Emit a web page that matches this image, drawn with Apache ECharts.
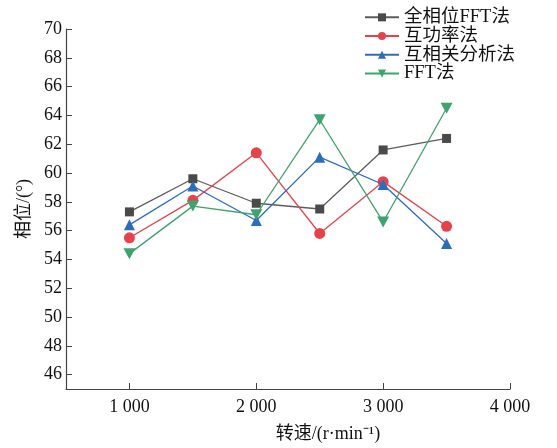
<!DOCTYPE html>
<html><head><meta charset="utf-8">
<script src="https://cdn.jsdelivr.net/npm/echarts@6/dist/echarts.min.js"></script>
<style>html,body{margin:0;padding:0;background:#fff}#c{width:557px;height:448px}</style>
</head><body><div id="c"></div>
<script>
var speeds = [1000, 1500, 2000, 2500, 3000, 3500];
var seriesNames = ['全相位FFT法', '互功率法', '互相关分析法', 'FFT法'];
var allPhaseFFT = [57.3, 59.6, 57.9, 57.5, 61.6, 62.4];
var crossPower = [55.5, 58.1, 61.4, 55.8, 59.4, 56.3];
var crossCorr = [56.4, 59.1, 56.7, 61.1, 59.2, 55.1];
var fft = [54.4, 57.7, 57.1, 63.7, 56.6, 64.5];
var xTicks = [1000, 2000, 3000, 4000];
var yTicks = [46, 48, 50, 52, 54, 56, 58, 60, 62, 64, 66, 68, 70];

var font = '"Liberation Serif", "Noto Sans CJK SC", serif';
function pairs(v){ return speeds.map(function(s,i){ return [s, v[i]]; }); }
function fmtX(v){ var s = String(v); return s.length > 3 ? s.slice(0, s.length-3) + ' ' + s.slice(-3) : s; }

var styles = [
  {color:'#4a4a4a', line:'#5c5c5c', symbol:'rect', size:9},
  {color:'#e5434b', line:'#e5434b', symbol:'circle', size:11},
  {color:'#2c6cbf', line:'#2c6cbf', symbol:'triangle', size:11},
  {color:'#3ea36c', line:'#3ea36c', symbol:'path://M0,0 L10,0 L5,9 Z', size:[12,11]}
];
var datas = [allPhaseFFT, crossPower, crossCorr, fft];

var chart = echarts.init(document.getElementById('c'));
chart.setOption({
  animation: false,
  backgroundColor: '#fff',
  grid: {left: 66, right: 47, top: 29, bottom: 58},
  legend: {
    orient: 'vertical', left: 359, top: 3, itemGap: 0,
    itemWidth: 34, itemHeight: 10,
    textStyle: {fontFamily: font, fontSize: 18.5, lineHeight: 18.7, color: '#111'},
    data: seriesNames
  },
  xAxis: {
    type: 'value', min: 500, max: 4000,
    name: '转速/(r·min⁻¹)', nameLocation: 'middle', nameGap: 36,
    nameTextStyle: {fontFamily: font, fontSize: 18, color: '#111', padding: [0,0,0,80]},
    axisLine: {show: true, lineStyle: {color: '#444', width: 1.2}},
    axisTick: {show: true, inside: true, length: 6, lineStyle: {color: '#444'}, customValues: xTicks},
    axisLabel: {fontFamily: font, fontSize: 18, color: '#111', margin: 9, customValues: xTicks, formatter: fmtX},
    splitLine: {show: false}
  },
  yAxis: {
    type: 'value', min: 45, max: 70,
    name: '相位/(°)', nameLocation: 'middle', nameGap: 33, nameRotate: 90,
    nameTextStyle: {fontFamily: font, fontSize: 18, color: '#111'},
    axisLine: {show: true, lineStyle: {color: '#444', width: 1.2}},
    axisTick: {show: true, inside: true, length: 6, lineStyle: {color: '#444'}, customValues: yTicks},
    axisLabel: {fontFamily: font, fontSize: 18, color: '#111', margin: 4, customValues: yTicks},
    splitLine: {show: false}
  },
  series: datas.map(function(d, i){
    var s = styles[i];
    return {
      name: seriesNames[i], type: 'line', data: pairs(d),
      symbol: s.symbol, symbolSize: s.size, showAllSymbol: true,
      itemStyle: {color: s.color},
      lineStyle: {color: s.line, width: 1.3},
      z: 2 + i
    };
  })
});
</script></body></html>
